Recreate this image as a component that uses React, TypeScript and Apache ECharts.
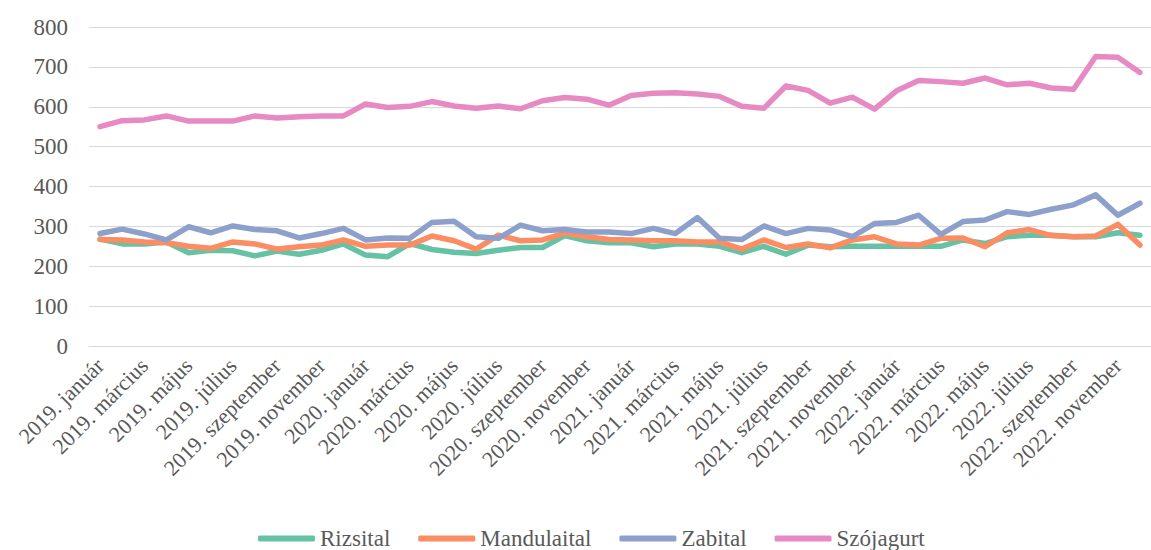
import React, { useEffect, useRef } from "react";
import * as echarts from "echarts";

const years = [2019, 2020, 2021, 2022];
const months = ["január", "február", "március", "április", "május", "június", "július", "augusztus", "szeptember", "október", "november", "december"];
const categories: string[] = [];
years.forEach((y) => months.forEach((m) => categories.push(`${y}. ${m}`)));

const seriesNames = ["Rizsital", "Mandulaital", "Zabital", "Szójagurt"];
const colors = ["#66c2a5", "#fc8d62", "#8da0cb", "#e78ac3"];

const rizsital = [268, 256, 256, 261, 234, 240, 239, 226, 238, 230, 240, 256, 228, 224, 257, 242, 235, 232, 240, 247, 247, 277, 264, 259, 259, 249, 256, 256, 250, 234, 250, 230, 253, 249, 250, 250, 250, 250, 250, 266, 257, 274, 278, 278, 274, 274, 284, 278];
const mandulaital = [267, 266, 261, 259, 250, 245, 261, 256, 243, 249, 253, 266, 250, 253, 253, 276, 264, 243, 278, 264, 266, 283, 274, 267, 266, 264, 264, 261, 261, 243, 266, 247, 256, 246, 266, 274, 256, 253, 270, 271, 249, 284, 292, 277, 274, 276, 305, 253];
const zabital = [282, 293, 281, 266, 299, 284, 301, 292, 289, 271, 282, 295, 266, 271, 270, 310, 313, 274, 270, 303, 289, 292, 286, 286, 282, 295, 282, 322, 270, 267, 301, 282, 295, 291, 274, 307, 310, 328, 280, 312, 316, 337, 330, 343, 354, 379, 328, 358];
const szojagurt = [550, 565, 567, 577, 564, 564, 564, 577, 572, 575, 577, 577, 607, 598, 601, 613, 602, 596, 602, 595, 615, 623, 619, 604, 628, 634, 635, 632, 626, 601, 596, 652, 641, 609, 624, 594, 640, 666, 663, 659, 672, 655, 659, 647, 644, 726, 724, 686];

const values = [rizsital, mandulaital, zabital, szojagurt];

const FONT = "Times New Roman, Liberation Serif, DejaVu Serif, serif";
const TEXT = "#595959";
const GRID = "#d9d9d9";

export default function App() {
  const ref = useRef<HTMLDivElement>(null);
  useEffect(() => {
    if (!ref.current) return;
    const chart = echarts.init(ref.current, null, { renderer: "svg" });
    chart.setOption({
      animation: false,
      backgroundColor: "#ffffff",
      color: colors,
      textStyle: { fontFamily: FONT },
      grid: { left: 89, top: 27, width: 1075, height: 319, containLabel: false },
      legend: {
        left: 253,
        top: 522,
        itemWidth: 57,
        itemHeight: 6,
        itemGap: 28,
        icon: "roundRect",
        textStyle: { fontFamily: FONT, fontSize: 23, color: TEXT },
        data: seriesNames,
      },
      xAxis: {
        type: "category",
        data: categories,
        boundaryGap: true,
        axisLine: { show: true, lineStyle: { color: GRID, width: 1 } },
        axisTick: { show: false },
        axisLabel: {
          interval: 1,
          rotate: 45,
          margin: 16,
          fontFamily: FONT,
          fontSize: 22,
          color: TEXT,
        },
      },
      yAxis: {
        type: "value",
        min: 0,
        max: 800,
        interval: 100,
        axisLine: { show: false },
        axisTick: { show: false },
        splitLine: { lineStyle: { color: GRID, width: 1 } },
        axisLabel: { margin: 21, fontFamily: FONT, fontSize: 23, color: TEXT },
      },
      series: seriesNames.map((name, i) => ({
        name,
        type: "line",
        data: values[i],
        symbol: "none",
        lineStyle: { width: 5.5, color: colors[i], cap: "round", join: "round" },
        itemStyle: { color: colors[i] },
      })),
    });
    return () => chart.dispose();
  }, []);
  return <div ref={ref} style={{ position: "fixed", left: 0, top: 0, width: 1151, height: 550 }} />;
}
